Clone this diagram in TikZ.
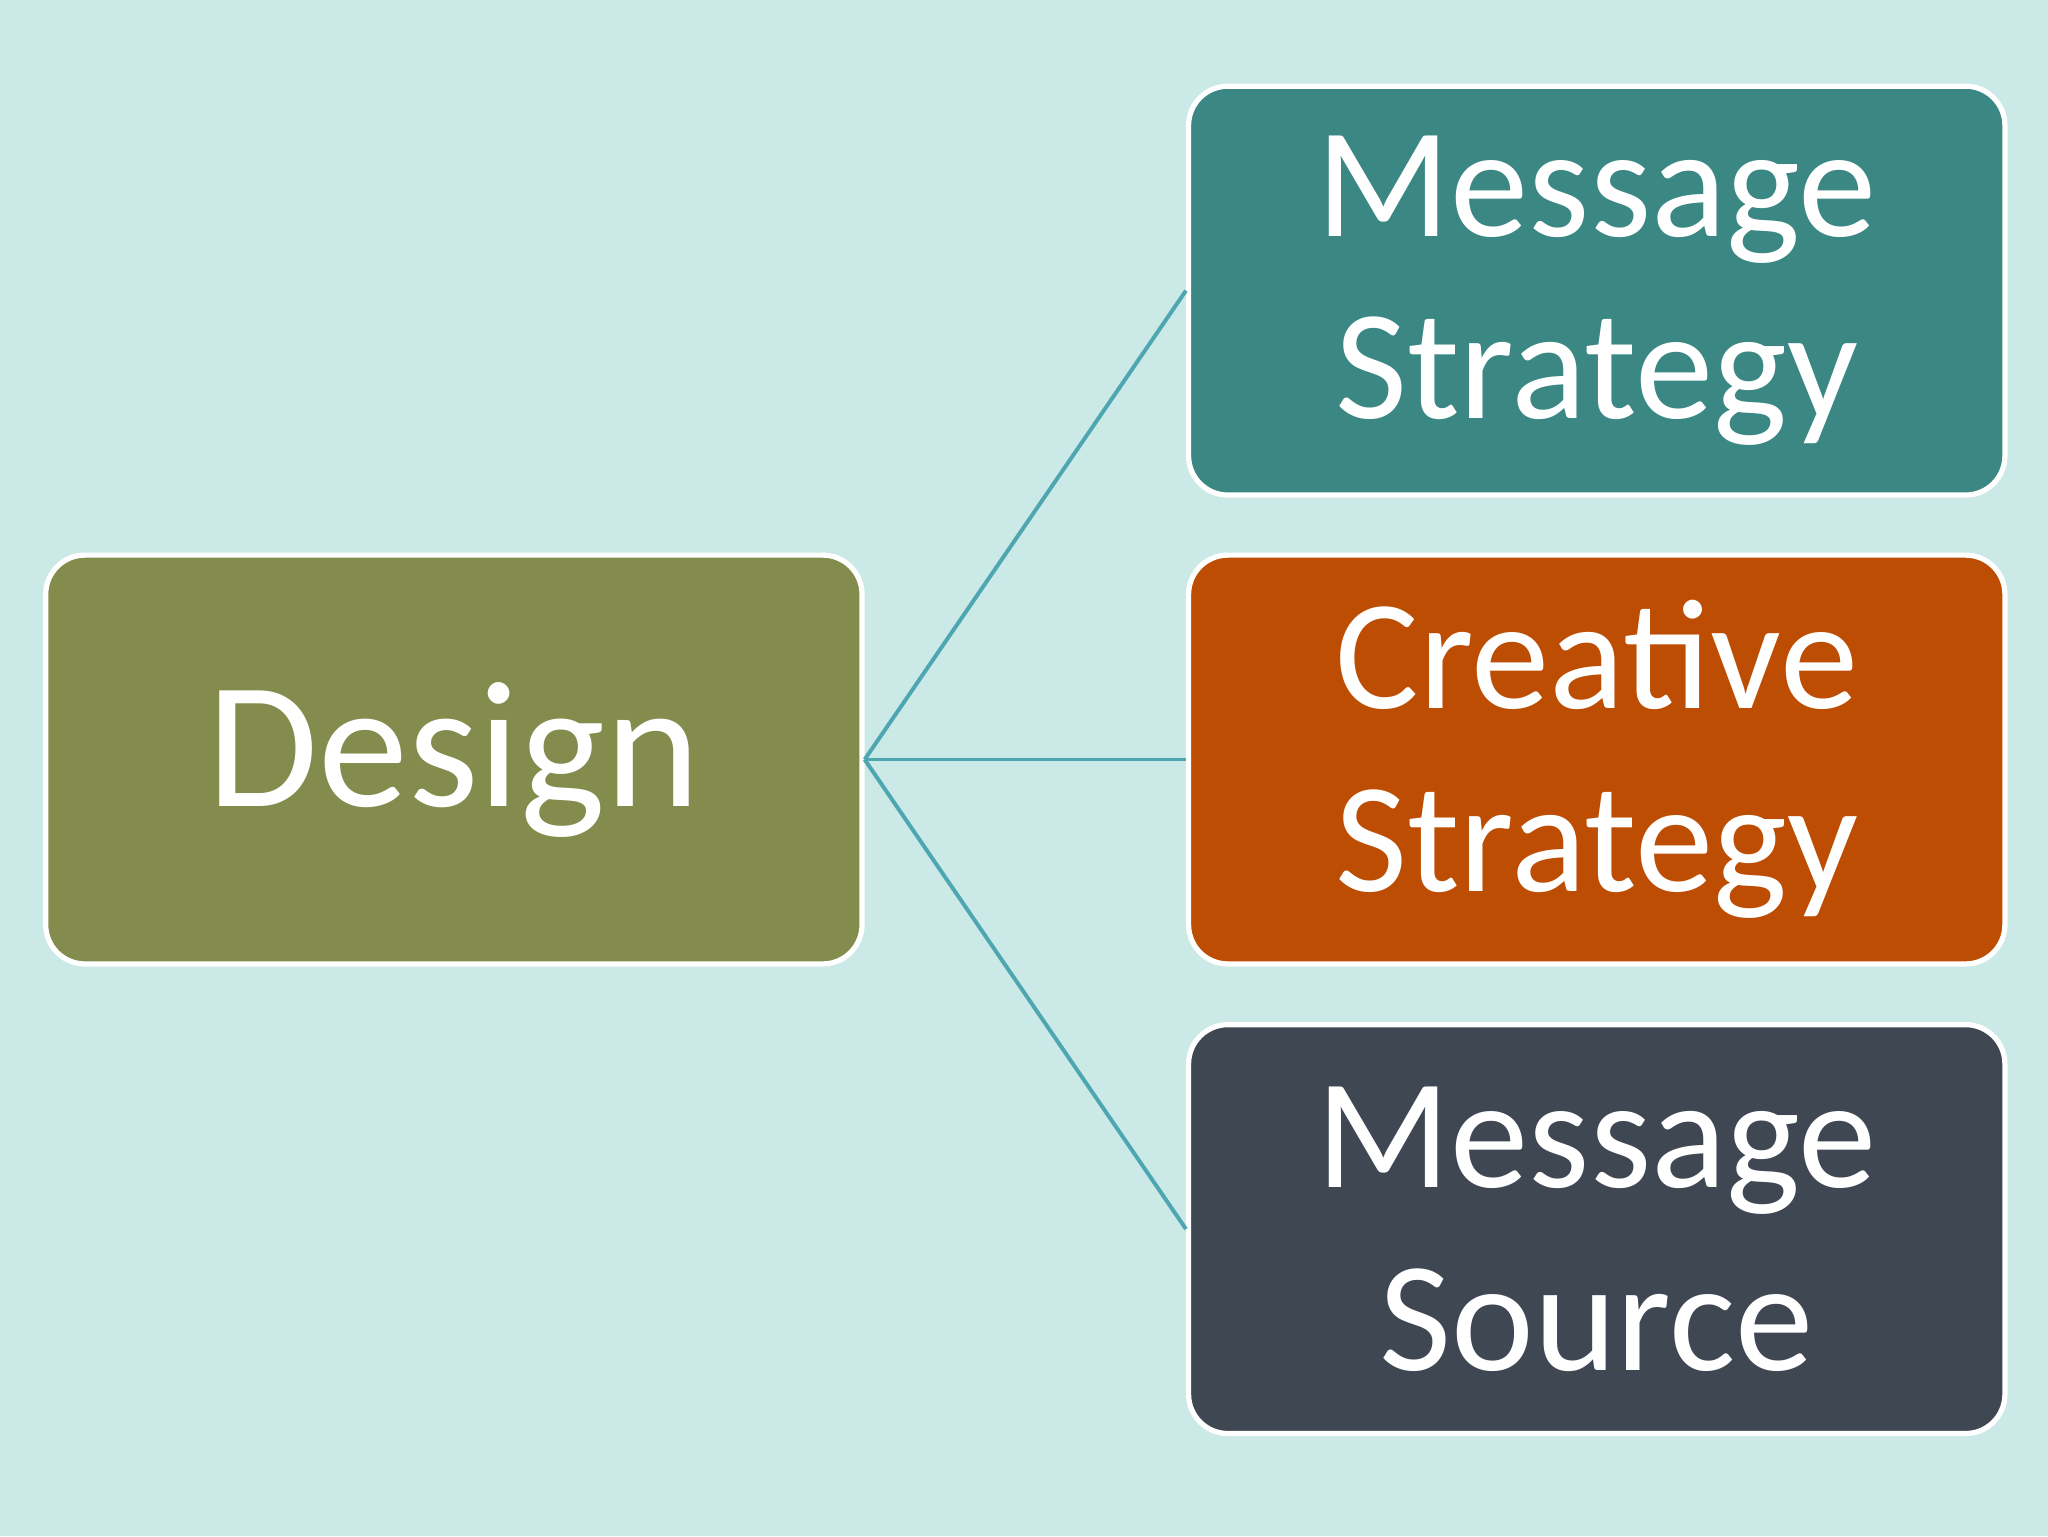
\documentclass[tikz,border=0pt]{standalone}
\usepackage{fontspec}
\setmainfont{Carlito}
\definecolor{bg}{HTML}{CBE9E7}
\definecolor{cteal}{HTML}{3A8783}
\definecolor{corange}{HTML}{BE4D04}
\definecolor{cdark}{HTML}{3F4753}
\definecolor{colive}{HTML}{838C4C}
\definecolor{cline}{HTML}{4EA6B0}
\begin{document}
\begin{tikzpicture}[x=1pt,y=-1pt,
  box/.style={draw=white,line width=4pt,rounded corners=30pt,minimum width=625pt,minimum height=313pt,text=white,align=center,inner sep=0pt},
  small/.style={font=\fontsize{120}{140}\selectfont},
  conn/.style={draw=cline,line width=3pt}]
\fill[bg] (0,0) rectangle (1568,1176);
\useasboundingbox (0,0) rectangle (1568,1176);
\node[box,fill=colive,font=\fontsize{138}{160}\selectfont] (d) at (347.5,581.5) {Design};
\node[box,fill=cteal,small] (a) at (1222.5,222.5) {Message\\Strategy};
\node[box,fill=corange,small] (b) at (1222.5,581.5) {Creative\\Strategy};
\node[box,fill=cdark,small] (c) at (1222.5,941) {Message\\Source};
\draw[conn] (d.east) -- (a.west);
\draw[conn] (d.east) -- (b.west);
\draw[conn] (d.east) -- (c.west);
\end{tikzpicture}
\end{document}
